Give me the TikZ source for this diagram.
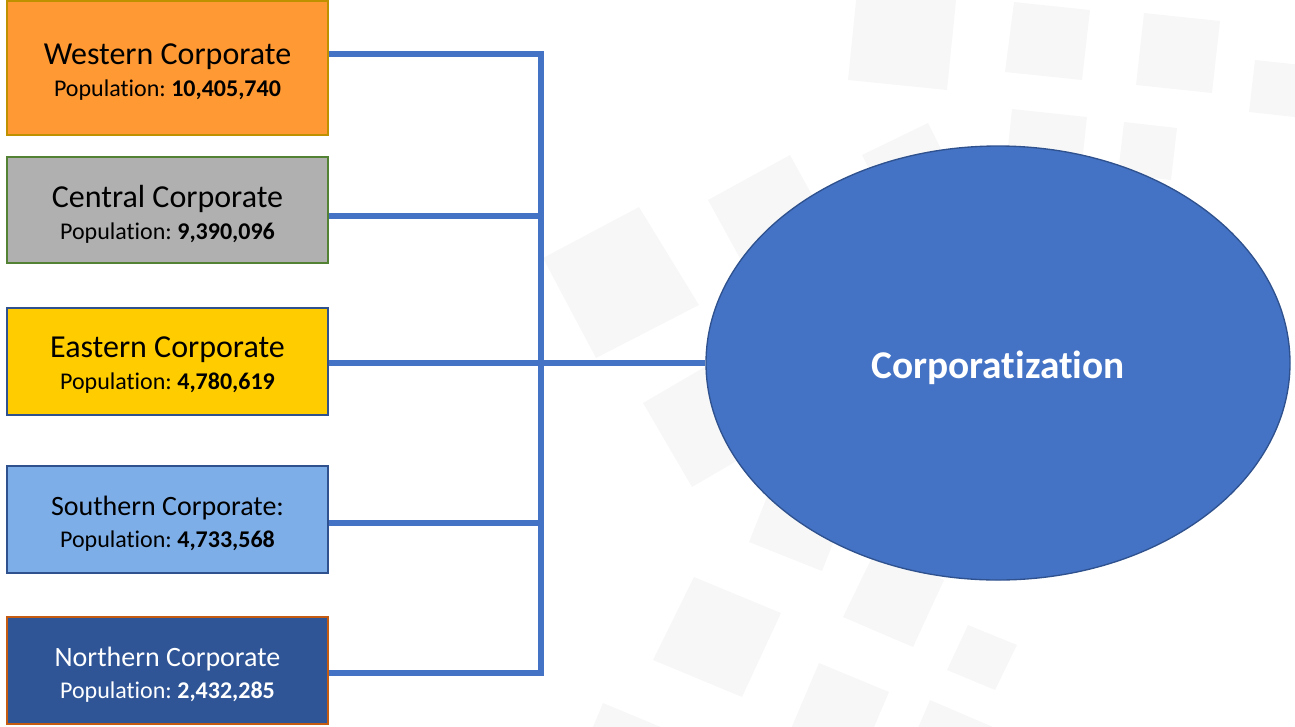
\documentclass[tikz,border=0pt]{standalone}
\usepackage{fontspec}
\setmainfont{Carlito}[Ligatures=NoCommon]
\usetikzlibrary{shapes.geometric}
\definecolor{cline}{HTML}{4472C4}
\definecolor{cdark}{HTML}{2F528F}
\definecolor{orfill}{HTML}{FF9933}
\definecolor{ordraw}{HTML}{BF9000}
\definecolor{grfill}{HTML}{B0B0B0}
\definecolor{grdraw}{HTML}{548235}
\definecolor{yefill}{HTML}{FFCC00}
\definecolor{lbfill}{HTML}{7EAEE8}
\definecolor{dbfill}{HTML}{2F5597}
\definecolor{dbdraw}{HTML}{C55A11}
\definecolor{sqgray}{HTML}{F7F7F7}
\tikzset{
  bgsq/.style={fill=sqgray},
  regbox/.style={draw, line width=1.5pt, minimum width=240.75pt, minimum height=80pt,
    inner sep=0pt, outer sep=0.75pt, align=center,
    font=\frenchspacing\fontsize{24}{24}\selectfont},
  conn/.style={draw=cline, line width=4.5pt, line join=miter}
}
\newcommand{\lowr}[1]{\raisebox{-3pt}[\height][\depth]{#1}}
\newcommand{\boxtxt}[3][24]{\lowr{\fontsize{#1}{24}\selectfont #2}\\\lowr{\fontsize{18}{24}\selectfont Population: \textbf{#3}}}
\begin{document}
\begin{tikzpicture}[x=0.75pt,y=-0.75pt]
\useasboundingbox (0,0) rectangle (1295,726);
\begin{scope}
\clip (0,0) rectangle (1295,726);
\fill[bgsq] (858,-19) -- (957,-9) -- (947,90) -- (848,80) -- cycle;
\fill[bgsq] (1014,2) -- (1090,10) -- (1082,80) -- (1005,72) -- cycle;
\fill[bgsq] (1144,13) -- (1220,21) -- (1212,93) -- (1136,85) -- cycle;
\fill[bgsq] (1255,60) -- (1330,68) -- (1322,120) -- (1249,112) -- cycle;
\fill[bgsq] (1012,109) -- (1087,117) -- (1079,192) -- (1004,184) -- cycle;
\fill[bgsq] (1124,122) -- (1177,128) -- (1171,180) -- (1118,174) -- cycle;
\fill[bgsq] (928,123) -- (960,187) -- (894,219) -- (862,155) -- cycle;
\fill[bgsq] (790,155) -- (835,237) -- (753,282) -- (708,200) -- cycle;
\fill[bgsq] (639,207) -- (699,305) -- (596,358) -- (543,258) -- cycle;
\fill[bgsq] (727,354) -- (776,438) -- (692,487) -- (643,403) -- cycle;
\fill[bgsq] (778,469) -- (851,498) -- (822,571) -- (749,542) -- cycle;
\fill[bgsq] (877,547) -- (944,580) -- (913,647) -- (843,617) -- cycle;
\fill[bgsq] (694,577) -- (781,613) -- (742,697) -- (653,660) -- cycle;
\fill[bgsq] (968,625) -- (1017,645) -- (995,690) -- (947,670) -- cycle;
\fill[bgsq] (819,663) -- (889,692) -- (860,760) -- (790,731) -- cycle;
\fill[bgsq] (603,703) -- (680,735) -- (650,800) -- (575,770) -- cycle;
\fill[bgsq] (930,700) -- (1000,730) -- (970,800) -- (900,770) -- cycle;
\end{scope}

\node[regbox, fill=orfill, draw=ordraw, minimum height=100.5pt] (west) at (167.5,68)
  {\boxtxt{Western Corporate}{10,405,740}};
\node[regbox, fill=grfill, draw=grdraw] (central) at (167.5,210)
  {\boxtxt{Central Corporate}{9,390,096}};
\node[regbox, fill=yefill, draw=cdark] (east) at (167.5,361.5)
  {\boxtxt{Eastern Corporate}{4,780,619}};
\node[regbox, fill=lbfill, draw=cdark] (south) at (167.5,519.5)
  {\boxtxt[21]{Southern Corporate:}{4,733,568}};
\node[regbox, fill=dbfill, draw=dbdraw, text=white] (north) at (167.5,670.5)
  {\boxtxt[21]{Northern Corporate}{2,432,285}};

\node[ellipse, fill=cline, draw=cdark, line width=1pt, minimum width=438pt,
  minimum height=325.5pt, inner sep=0pt, outer sep=0.5pt, text=white,
  font=\fontsize{29.5}{34}\selectfont\bfseries] (corp) at (998,363)
  {\raisebox{-3.5pt}[\height][\depth]{Corporatization}};

\coordinate (jW) at (541,54);
\coordinate (jC) at (541,216);
\coordinate (jS) at (541,523);
\coordinate (jN) at (541,673);
\draw[conn] (west.east |- jW) -- (jW) -- (jN) -- (north.east |- jN);
\draw[conn] (central.east |- jC) -- (jC);
\draw[conn] (south.east |- jS) -- (jS);
\draw[conn] (east.east |- corp.west) -- (corp.west);
\end{tikzpicture}
\end{document}
